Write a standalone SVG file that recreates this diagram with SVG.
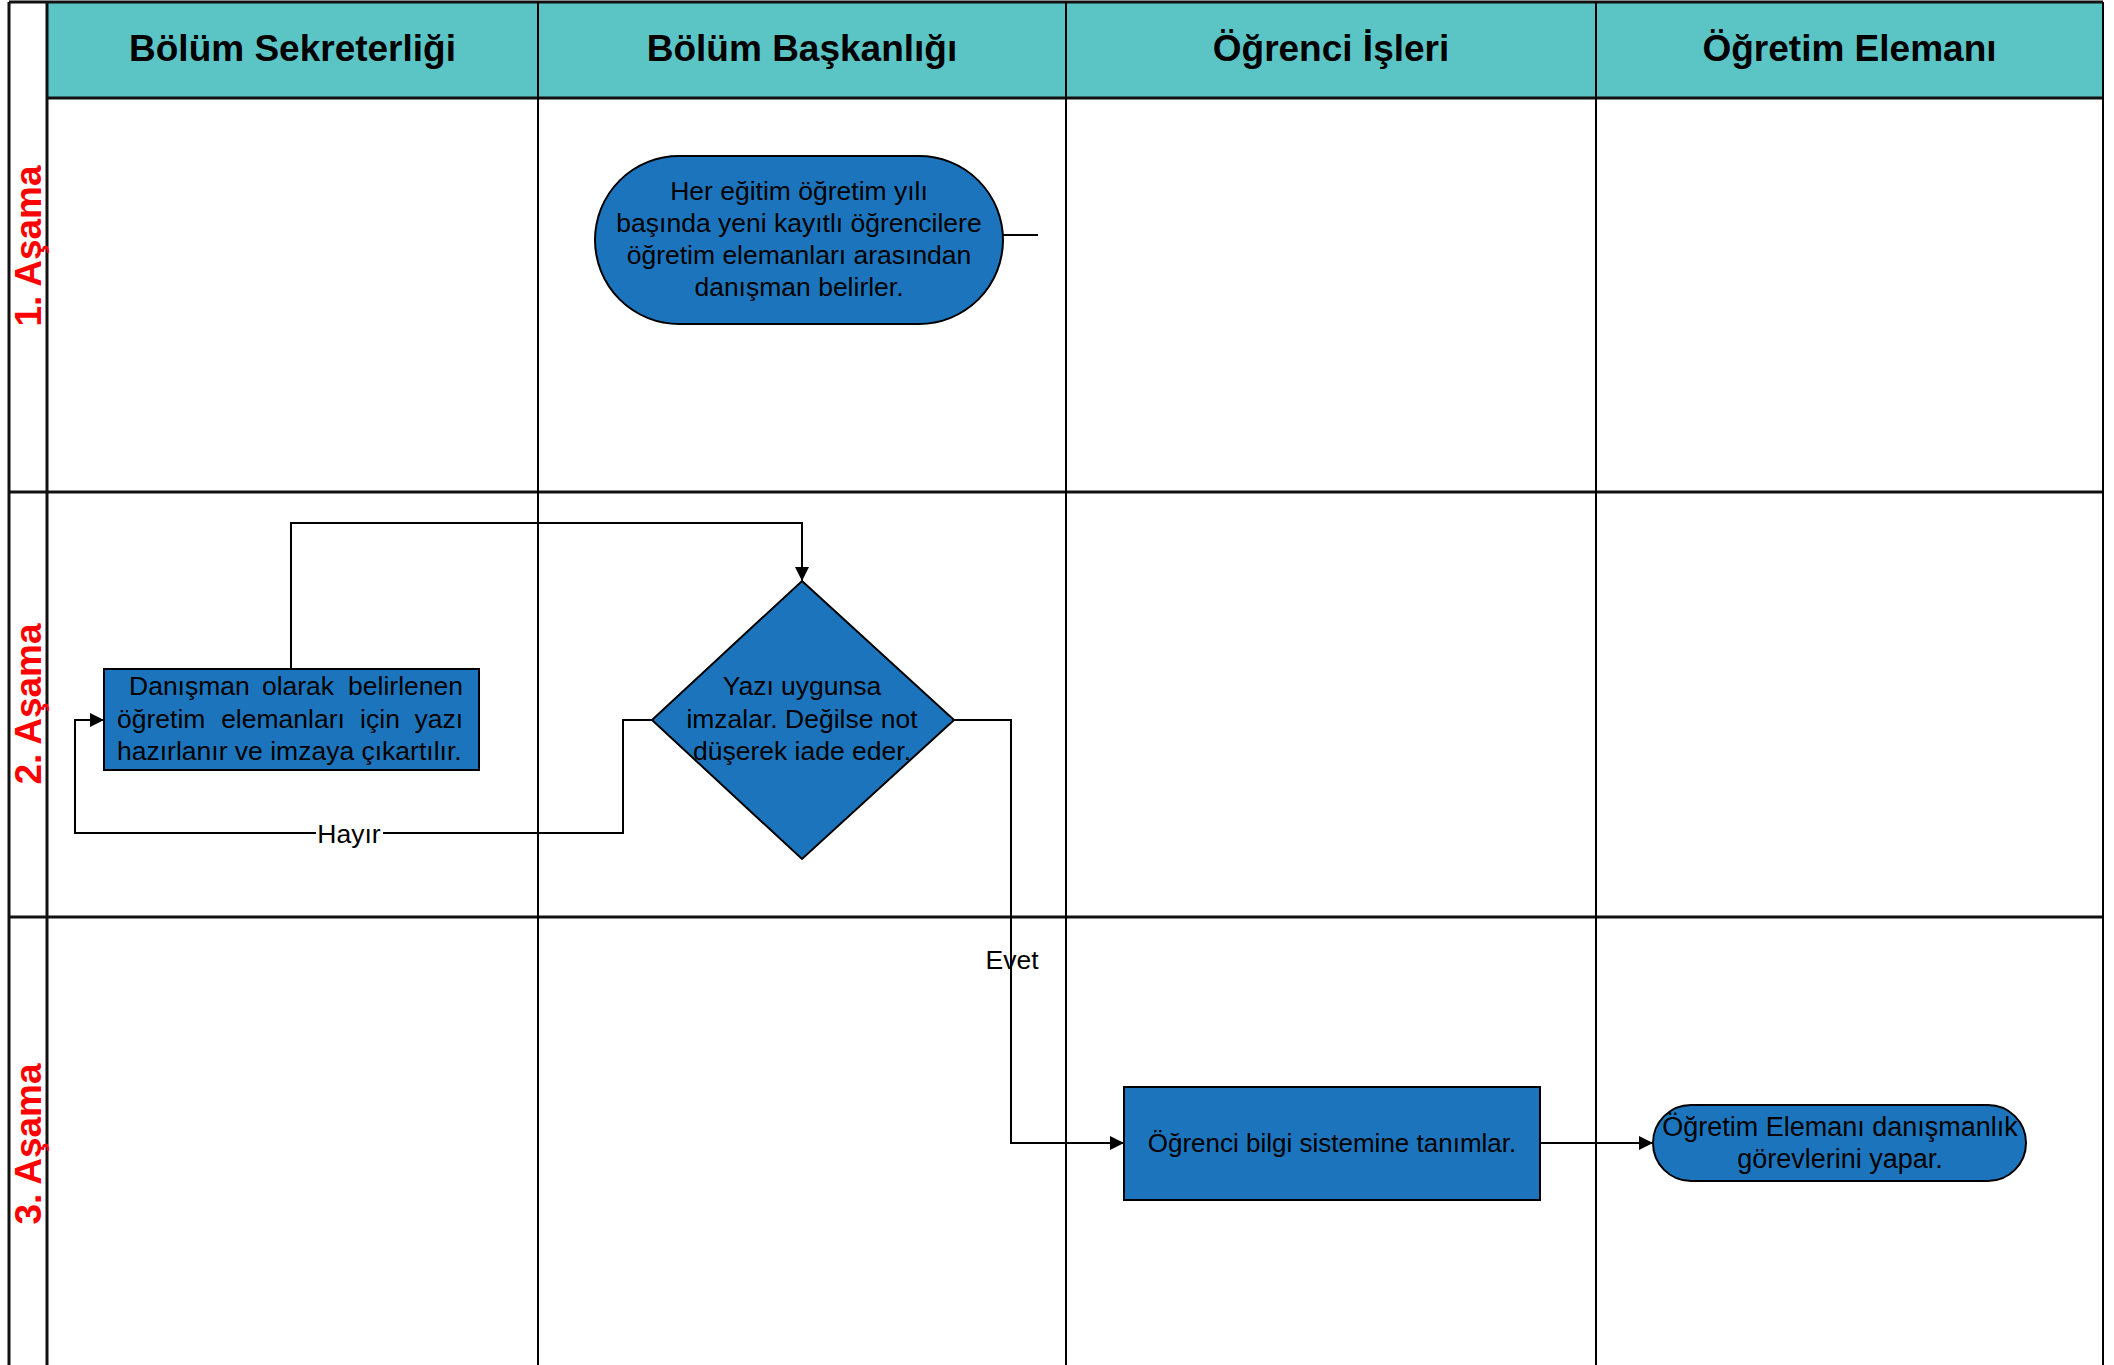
<svg xmlns="http://www.w3.org/2000/svg" width="2114" height="1365" viewBox="0 0 2114 1365">
<style>
.grid{stroke:#000;stroke-width:2;fill:none}
.gridb{stroke:#111;stroke-width:3;fill:none}
.hdr{font-family:"Liberation Sans",Arial,sans-serif;font-weight:bold;font-size:37px;fill:#000;text-anchor:middle}
.phase{font-family:"Liberation Sans",Arial,sans-serif;font-weight:bold;font-size:37px;fill:#FF0000;text-anchor:middle}
.shape{fill:#1C75BC;stroke:#000;stroke-width:2}
.t{font-family:"Liberation Sans",Arial,sans-serif;font-size:26.5px;fill:#000}
.c{text-anchor:middle}
.conn{stroke:#000;stroke-width:2;fill:none}
.lbl{font-family:"Liberation Sans",Arial,sans-serif;font-size:26.5px;fill:#000;text-anchor:middle}
</style>
<defs>
<marker id="arr" viewBox="0 0 10 10" refX="10" refY="5" markerWidth="7" markerHeight="7" markerUnits="strokeWidth" orient="auto">
<path d="M0,0 L10,5 L0,10 z" fill="#000"/>
</marker>
</defs>
<rect x="0" y="0" width="2114" height="1365" fill="#fff"/>
<g id="lanes">
<rect x="47" y="2" width="2056" height="96" fill="#5BC5C6"/>
<line class="gridb" x1="9" y1="2" x2="2103" y2="2"/>
<line class="gridb" x1="47" y1="98" x2="2103" y2="98"/>
<line class="gridb" x1="9" y1="492" x2="2103" y2="492"/>
<line class="gridb" x1="9" y1="917" x2="2103" y2="917"/>
<line class="gridb" x1="9" y1="2" x2="9" y2="1365"/>
<line class="gridb" x1="47" y1="2" x2="47" y2="1365"/>
<line class="grid" x1="538" y1="2" x2="538" y2="1365"/>
<line class="grid" x1="1066" y1="2" x2="1066" y2="1365"/>
<line class="grid" x1="1596" y1="2" x2="1596" y2="1365"/>
<line class="grid" x1="2103" y1="2" x2="2103" y2="1365"/>
<text class="hdr" x="292.5" y="61">Bölüm Sekreterliği</text>
<text class="hdr" x="802" y="61">Bölüm Başkanlığı</text>
<text class="hdr" x="1331" y="61">Öğrenci İşleri</text>
<text class="hdr" x="1849.5" y="61">Öğretim Elemanı</text>
<text class="phase" transform="translate(41,246) rotate(-90)">1. Aşama</text>
<text class="phase" transform="translate(41,704) rotate(-90)">2. Aşama</text>
<text class="phase" transform="translate(41,1144) rotate(-90)">3. Aşama</text>
</g>
<g id="connectors">
<line class="conn" x1="1003" y1="235" x2="1038" y2="235"/>
<polyline class="conn" points="291,669 291,523 802,523 802,581" marker-end="url(#arr)"/>
<polyline class="conn" points="652,720 623,720 623,833 75,833 75,720 104,720" marker-end="url(#arr)"/>
<polyline class="conn" points="954,720 1011,720 1011,1143 1124,1143" marker-end="url(#arr)"/>
<line class="conn" x1="1540" y1="1143" x2="1653" y2="1143" marker-end="url(#arr)"/>
<rect x="316" y="818" width="67" height="30" fill="#fff"/>
<text class="lbl" x="349" y="842.5">Hayır</text>
<text class="lbl" x="1012" y="969">Evet</text>
</g>
<g id="node-start">
<rect class="shape" x="595" y="156" width="408" height="168" rx="84" ry="84"/>
<text class="t c" x="799" y="200">Her eğitim öğretim yılı</text>
<text class="t c" x="799" y="232">başında yeni kayıtlı öğrencilere</text>
<text class="t c" x="799" y="264">öğretim elemanları arasından</text>
<text class="t c" x="799" y="296">danışman belirler.</text>
</g>
<g id="node-yazi">
<rect class="shape" x="104" y="669" width="375" height="101"/>
<text class="t" x="129" y="695">Danışman</text>
<text class="t c" x="298" y="695">olarak</text>
<text class="t" x="463" y="695" text-anchor="end">belirlenen</text>
<text class="t" x="117" y="728">öğretim</text>
<text class="t c" x="283" y="728">elemanları</text>
<text class="t c" x="380" y="728">için</text>
<text class="t" x="463" y="728" text-anchor="end">yazı</text>
<text class="t" x="117" y="760">hazırlanır ve imzaya çıkartılır.</text>
</g>
<g id="node-karar">
<polygon class="shape" points="802,581 954,720 802,859 652,720"/>
<text class="t c" x="802" y="695">Yazı uygunsa</text>
<text class="t c" x="802" y="728">imzalar. Değilse not</text>
<text class="t c" x="802" y="760">düşerek iade eder.</text>
</g>
<g id="node-obs">
<rect class="shape" x="1124" y="1087" width="416" height="113"/>
<text class="t c" x="1332" y="1152" style="font-size:26px">Öğrenci bilgi sistemine tanımlar.</text>
</g>
<g id="node-end">
<rect class="shape" x="1653" y="1105" width="373" height="76" rx="38" ry="38"/>
<text class="t c" x="1840" y="1135.5" style="font-size:27px">Öğretim Elemanı danışmanlık</text>
<text class="t c" x="1840" y="1167.5" style="font-size:27px">görevlerini yapar.</text>
</g>
</svg>
